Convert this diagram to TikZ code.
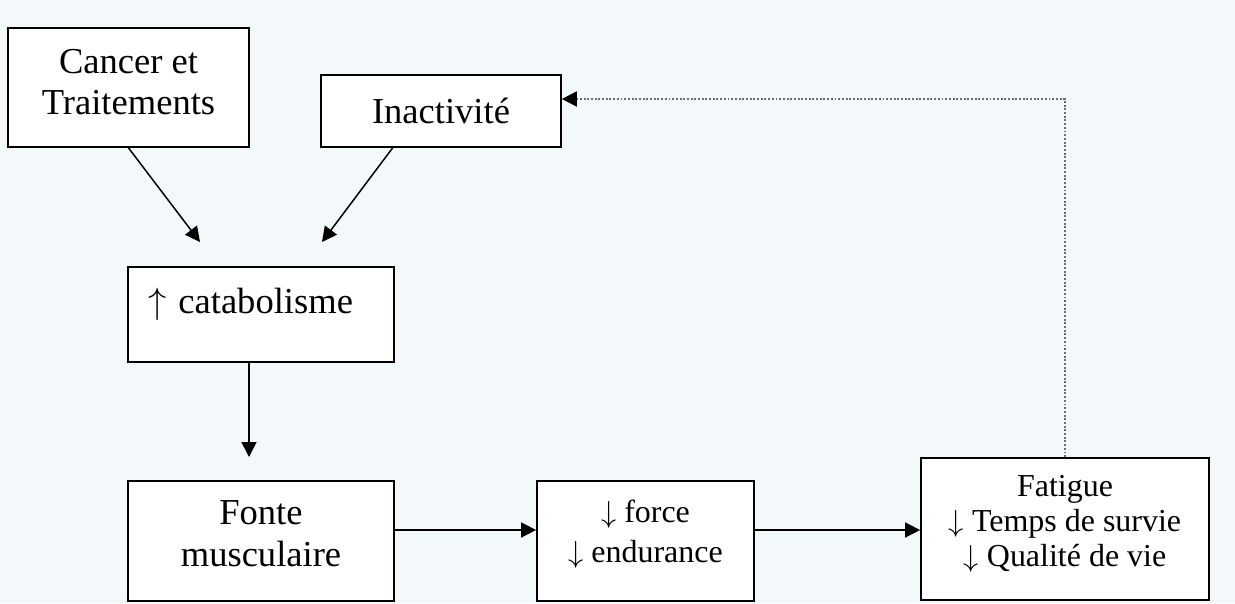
\documentclass[tikz,border=0pt]{standalone}
\usepackage{fontspec}
\setmainfont{Liberation Serif}
\usetikzlibrary{arrows.meta,calc}
\definecolor{scanbg}{RGB}{243,248,250}
\definecolor{dotgray}{RGB}{105,110,115}
\newcommand{\up}{$\uparrow$}
\newcommand{\down}{$\downarrow$}

\begin{document}
\begin{tikzpicture}[x=0.02cm, y=-0.02cm,
  every node/.style={font=\fontsize{20.8}{23.3}\selectfont},
  boxsize/.style 2 args={minimum width=#1*0.5691pt, minimum height=#2*0.5691pt},
  box/.style={draw, fill=white, line width=1pt, inner sep=0pt, align=center},
  arr/.style={-{Triangle[length=8.5pt,width=8.5pt]}, line width=0.85pt},
  feedback/.style={-{Triangle[length=8.5pt,width=8.5pt,color=black]}, densely dotted, line width=1.1pt, dotgray}]
  % Page
  \fill[scanbg] (0,0) rectangle (1235,603);
  \useasboundingbox (0,0) rectangle (1235,603);
  % Causes
  \node[box, boxsize={241}{119}, text depth=6.3pt] (cancer) at (128.5,87.5) {Cancer et\\Traitements};
  \node[box, boxsize={240}{72}] (inact) at (441,111) {Inactivité};
  % Catabolism
  \node[box, boxsize={266}{95}, align=left, text width=226*0.5691pt, text height=15pt, text depth=16.7pt] (cata) at (261,314.5) {\up{} catabolisme};
  % Bottom row
  \node[box, boxsize={266}{120}, font=\fontsize{20.8}{23.9}\selectfont, text depth=8.5pt] (fonte) at (261,541) {Fonte\\musculaire};
  \node[box, boxsize={217}{120}, font=\fontsize{18.2}{22.8}\selectfont, text depth=11.4pt] (force) at (645.5,541) {\down{} force\\\down{} endurance};
  \node[box, boxsize={288}{142}, font=\fontsize{18.2}{20}\selectfont, text depth=9.1pt] (fatigue) at (1065,529) {Fatigue\\\down{} Temps de survie\\\down{} Qualité de vie};
  % Arrow ends
  \coordinate (tipA) at (200,242);
  \coordinate (tipB) at (322,242);
  \coordinate (tipC) at (249,457);
  \coordinate (rowline) at (0,530);
  \coordinate (loopline) at (0,99);
  % Connectors
  \draw[arr] (cancer.south) -- (tipA);
  \draw[arr] ($(inact.south west)!0.3!(inact.south east)$) -- (tipB);
  \draw[arr] (cata.south -| tipC) -- (tipC);
  \draw[arr] (fonte.east |- rowline) -- (force.west |- rowline);
  \draw[arr] (force.east |- rowline) -- (fatigue.west |- rowline);
  % Feedback loop
  \draw[feedback] (fatigue.north) |- (inact.east |- loopline);
\end{tikzpicture}
\end{document}
